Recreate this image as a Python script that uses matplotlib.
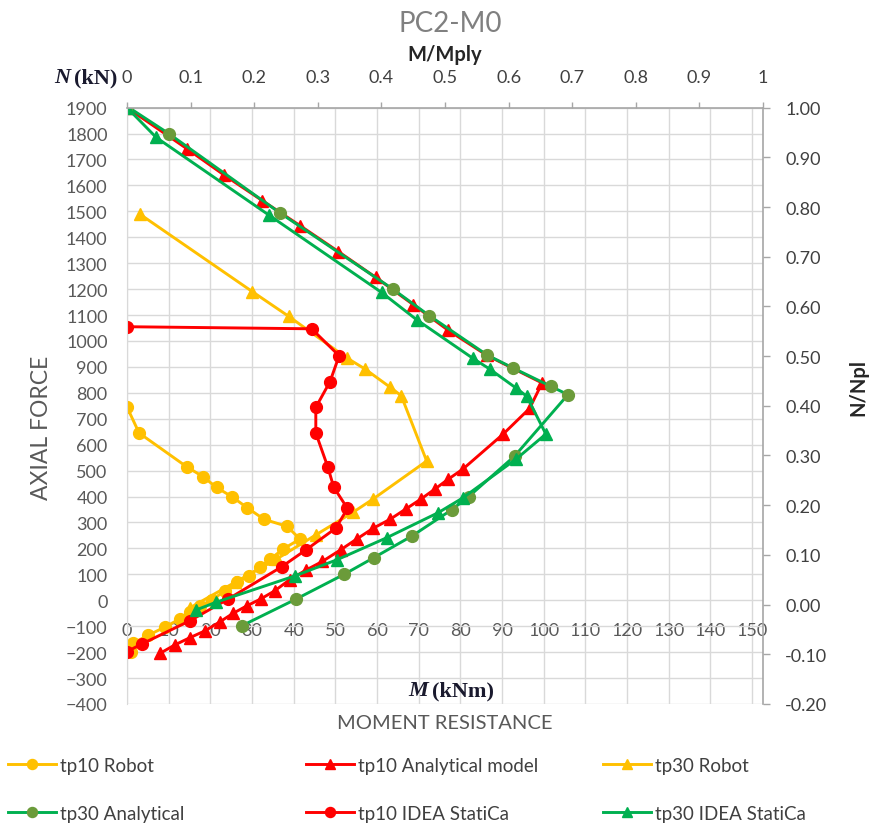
import numpy as np
import matplotlib
matplotlib.use('Agg')
import matplotlib.pyplot as plt
from matplotlib.ticker import FuncFormatter

plt.rcParams['font.family'] = ['Lato', 'DejaVu Sans']

# values: M in kNm, N in kN
tp10_robot_m = [0.0, 2.9, 14.3, 18.2, 21.5, 25.3, 28.9, 32.9, 38.4, 41.5, 37.5, 34.4,
                32.0, 29.2, 26.4, 23.5, 20.3, 17.5, 15.0, 12.7, 9.0, 5.1, 1.5, 1.0]
tp10_robot_n = [745, 645, 515, 477, 435, 398, 356, 312, 285, 236, 198, 159,
                129, 95, 69, 37, 0, -21, -46, -72, -104, -135, -165, -200]

tp10_anal_m = [0.0, 14.5, 23.3, 32.5, 41.5, 50.7, 59.7, 68.7, 77.0, 86.3, 99.6, 96.6,
               90.2, 80.6, 77.0, 73.8, 70.5, 66.9, 63.1, 59.1, 55.2, 51.3, 46.9, 42.9,
               39.1, 35.4, 32.2, 28.7, 25.5, 22.2, 18.7, 15.0, 11.5, 7.9]
tp10_anal_n = [1900, 1740, 1640, 1541, 1445, 1345, 1245, 1140, 1042, 945, 838, 740,
               640, 506, 466, 428, 390, 352, 312, 278, 237, 195, 150, 116,
               80, 36, 6, -22, -50, -84, -118, -145, -172, -205]

tp30_robot_m = [3.0, 30.1, 38.8, 52.7, 57.1, 63.1, 65.8, 71.9, 59.1, 54.2, 45.3, 36.0, 26.0, 15.0]
tp30_robot_n = [1490, 1190, 1095, 935, 892, 822, 789, 537, 391, 339, 252, 160, 70, -30]

tp30_anal_m = [0.0, 10.0, 36.6, 63.8, 72.5, 86.4, 92.6, 101.7, 105.8, 93.0, 82.0, 77.9,
               68.4, 59.2, 52.1, 40.5, 27.6]
tp30_anal_n = [1905, 1800, 1495, 1200, 1098, 946, 896, 825, 793, 556, 400, 349,
               248, 164, 100, 4, -98]

tp10_idea_m = [0.0, 44.3, 50.9, 48.7, 45.3, 45.3, 48.2, 49.6, 52.9, 50.1, 43.0, 37.1,
               24.3, 15.1, 3.5, 0.0]
tp10_idea_n = [1055, 1047, 943, 843, 744, 645, 513, 436, 354, 278, 195, 129,
               5, -79, -169, -198]

tp30_idea_m = [0.0, 7.0, 34.1, 61.1, 69.5, 83.0, 87.0, 93.3, 95.9, 100.5, 93.4, 80.6,
               74.7, 62.3, 50.5, 40.3, 21.3, 16.5]
tp30_idea_n = [1900, 1785, 1485, 1187, 1082, 933, 892, 819, 787, 641, 545, 395,
               338, 241, 157, 94, -8, -38]

YELLOW = '#FFC000'
RED = '#FF0000'
GREEN = '#00B050'
OLIVE = '#6B9B3A'
GRID = '#D9D9D9'
GRAY_TXT = '#595959'
DARK_TXT = '#404040'

fig = plt.figure(figsize=(8.7, 8.28), dpi=100)
ax = fig.add_axes([0.146, 0.1486, 0.731, 0.7202])

lw = 2.1
ms = 8.5
l1, = ax.plot(tp10_robot_m, tp10_robot_n, color=YELLOW, lw=lw, marker='o', ms=ms, label='tp10 Robot')
l2, = ax.plot(tp10_anal_m, tp10_anal_n, color=RED, lw=lw, marker='^', ms=ms, label='tp10 Analytical model')
l3, = ax.plot(tp30_robot_m, tp30_robot_n, color=YELLOW, lw=lw, marker='^', ms=ms, label='tp30 Robot')
l4, = ax.plot(tp30_anal_m, tp30_anal_n, color=GREEN, lw=lw, marker='o', ms=ms,
              mfc=OLIVE, mec=OLIVE, label='tp30 Analytical')
l5, = ax.plot(tp10_idea_m, tp10_idea_n, color=RED, lw=lw, marker='o', ms=ms, label='tp10 IDEA StatiCa')
l6, = ax.plot(tp30_idea_m, tp30_idea_n, color=GREEN, lw=lw, marker='^', ms=ms, label='tp30 IDEA StatiCa')

# primary axes
ax.set_xlim(0, 152.6)
ax.set_ylim(-400, 1900)
ax.set_xticks(np.arange(0, 151, 10))
ax.set_yticks(np.arange(-400, 1901, 100))
ax.grid(True, color=GRID, lw=1.0)
ax.set_axisbelow(True)
for s in ['top', 'right']:
    ax.spines[s].set_visible(False)
ax.spines['left'].set_color(GRID)
ax.spines['bottom'].set_position(('data', 0))
ax.spines['bottom'].set_visible(False)
ax.tick_params(axis='x', length=0, pad=16, labelsize=13, labelcolor=GRAY_TXT)
ax.tick_params(axis='y', length=0, pad=14, labelsize=13, labelcolor=GRAY_TXT)

# secondary y: N/Npl
ax2 = ax.twinx()
ax2.set_ylim(-0.2, 1.0)
rt = np.round(np.linspace(-0.2, 1.0, 13), 2) + 0.0
ax2.set_yticks(rt)
ax2.yaxis.set_major_formatter(FuncFormatter(lambda v, p: f'{v + 0.0:.2f}'))
for s in ['top', 'left', 'bottom']:
    ax2.spines[s].set_visible(False)
ax2.spines['right'].set_color('#A6A6A6')
ax2.spines['right'].set_linewidth(1.2)
ax2.tick_params(axis='y', length=5, width=1, color='#A6A6A6', pad=11, labelsize=13, labelcolor=DARK_TXT)

# secondary x: M/Mply
ax3 = ax.twiny()
ax3.set_xlim(0, 1)
ax3.set_xticks(np.round(np.linspace(0, 1, 11), 1))
ax3.xaxis.set_major_formatter(FuncFormatter(lambda v, p: f'{round(v, 1):g}'))
for s in ['bottom', 'left', 'right']:
    ax3.spines[s].set_visible(False)
ax3.spines['top'].set_color('#A6A6A6')
ax3.spines['top'].set_linewidth(1.2)
ax3.tick_params(axis='x', length=4.5, width=1, color='#A6A6A6', pad=11.5, labelsize=13, labelcolor=DARK_TXT)

# titles and axis texts
fig.text(450 / 870, 1 - 24 / 828, 'PC2-M0', ha='center', va='center', fontsize=20, color='#808080')
fig.text(445 / 870, 1 - 55 / 828, 'M/Mply', ha='center', va='center', fontsize=14.5, fontweight='bold', color='#262626')
fig.text(858 / 870, 1 - 387 / 828, 'N/Npl', ha='center', va='center', rotation=90,
         fontsize=14.5, fontweight='bold', color='#262626')
fig.text(42 / 870, 1 - 428 / 828, 'AXIAL FORCE', ha='center', va='center', rotation=90,
         fontsize=16.5, color=GRAY_TXT)
fig.text(445 / 870, 1 - 724 / 828, 'MOMENT RESISTANCE', ha='center', va='center',
         fontsize=14.5, color=GRAY_TXT)

serif = ['Liberation Serif', 'DejaVu Serif']
fig.text(70 / 870, 1 - 78 / 828, 'N', ha='right', va='center', family=serif, fontsize=16,
         fontweight='bold', style='italic', color='#1a1a2e')
fig.text(74 / 870, 1 - 78 / 828, '(kN)', ha='left', va='center', family=serif, fontsize=16,
         fontweight='bold', color='#1a1a2e')
fig.text(428 / 870, 1 - 691 / 828, 'M', ha='right', va='center', family=serif, fontsize=16,
         fontweight='bold', style='italic', color='#1a1a2e')
fig.text(432 / 870, 1 - 691 / 828, '(kNm)', ha='left', va='center', family=serif, fontsize=16,
         fontweight='bold', color='#1a1a2e')

# legend, three columns of two entries
cols = [([l1, l4], 8), ([l2, l5], 306), ([l3, l6], 603)]
for handles, x0 in cols:
    fig.legend(handles=handles, labels=[h.get_label() for h in handles],
               loc='upper left', bbox_to_anchor=(x0 / 870, 1 - 758 / 828),
               frameon=False, fontsize=13.5, labelcolor=DARK_TXT,
               handlelength=2.55, handletextpad=0.2, borderpad=0, borderaxespad=0,
               labelspacing=1.65, markerscale=0.85)

fig.savefig('out.png', dpi=100)
